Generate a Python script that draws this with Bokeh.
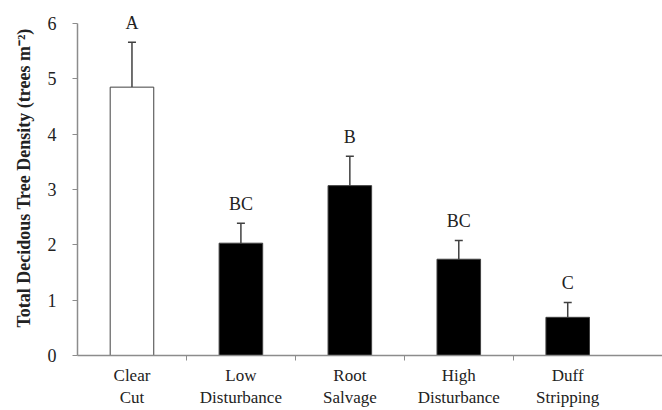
from bokeh.plotting import figure
from bokeh.models import FixedTicker, Whisker, TeeHead, ColumnDataSource, LabelSet, Range1d
from bokeh.embed import file_html
from bokeh.resources import INLINE

categories = ["Clear\nCut", "Low\nDisturbance", "Root\nSalvage", "High\nDisturbance", "Duff\nStripping"]
means = [4.85, 2.03, 3.07, 1.74, 0.69]
errors = [0.81, 0.36, 0.53, 0.34, 0.27]
letters = ["A", "BC", "B", "BC", "C"]
fills = ["white", "black", "black", "black", "black"]

x = [i + 0.5 for i in range(len(categories))]
tops = [m + e for m, e in zip(means, errors)]

src = ColumnDataSource(dict(x=x, top=means, upper=tops, letters=letters, fill=fills))

p = figure(width=662, height=410, output_backend="svg", toolbar_location=None,
           x_range=Range1d(0, 5.37), y_range=Range1d(0, 6.416),
           min_border_left=77, min_border_right=0, min_border_top=0, min_border_bottom=55)
p.outline_line_color = None
p.grid.grid_line_color = None
p.background_fill_color = "white"

p.vbar(x="x", top="top", width=0.4, source=src, fill_color="fill",
       line_color="#404040", line_width=1)

w = Whisker(base="x", lower="top", upper="upper", source=src,
            line_color="#404040", line_width=1.5,
            upper_head=TeeHead(size=8, line_color="#404040", line_width=1.5),
            lower_head=None)
p.add_layout(w)

lbl = LabelSet(x="x", y="upper", text="letters", source=src, text_align="center",
               text_baseline="bottom", y_offset=9, text_font="Liberation Serif",
               text_font_size="18px", text_color="#222222")
p.add_layout(lbl)

# y axis
p.yaxis.bounds = (0, 6)
p.yaxis.ticker = FixedTicker(ticks=[0, 1, 2, 3, 4, 5, 6])
p.yaxis.axis_line_color = "#8c8c8c"
p.yaxis.axis_line_width = 1.5
p.yaxis.major_tick_line_color = "#8c8c8c"
p.yaxis.major_tick_in = 0
p.yaxis.major_tick_out = 5
p.yaxis.minor_tick_line_color = None
p.yaxis.major_label_text_font = "Liberation Serif"
p.yaxis.major_label_text_font_size = "18px"
p.yaxis.major_label_text_color = "#222222"
p.yaxis.major_label_standoff = 16
p.yaxis.axis_label = "Total Decidous Tree Density (trees m\u207b\u00b2)"
p.yaxis.axis_label_text_font = "Liberation Serif"
p.yaxis.axis_label_text_font_style = "bold"
p.yaxis.axis_label_text_font_size = "18px"
p.yaxis.axis_label_text_color = "#222222"
p.yaxis.axis_label_standoff = 11

# x axis
p.xaxis.ticker = FixedTicker(ticks=x, minor_ticks=[1, 2, 3, 4])
p.xaxis.major_label_overrides = {xi: c for xi, c in zip(x, categories)}
p.xaxis.axis_line_color = "#8c8c8c"
p.xaxis.axis_line_width = 1.5
p.xaxis.major_tick_line_color = None
p.xaxis.major_tick_in = 0
p.xaxis.major_tick_out = 0
p.xaxis.minor_tick_line_color = "#8c8c8c"
p.xaxis.minor_tick_in = 0
p.xaxis.minor_tick_out = 5
p.xaxis.major_label_text_font = "Liberation Serif"
p.xaxis.major_label_text_font_size = "17px"
p.xaxis.major_label_text_color = "#222222"
p.xaxis.major_label_standoff = 5

open("out.html", "w").write(file_html(p, INLINE))
